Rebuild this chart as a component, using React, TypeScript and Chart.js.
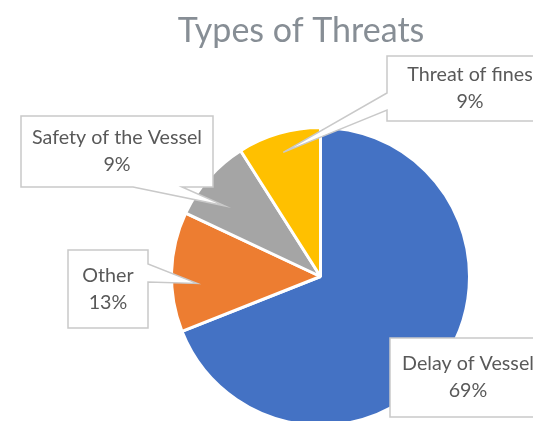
import React, { useEffect, useRef } from "react";
import { Chart, registerables } from "chart.js";

Chart.register(...registerables);

const TITLE = "Types of Threats";
const CATEGORIES = ["Delay of Vessel", "Other", "Safety of the Vessel", "Threat of fines"];
const VALUES = [69, 13, 9, 9];
const COLORS = ["#4472C4", "#ED7D31", "#A5A5A5", "#FFC000"];

// Callout (data label) boxes: [left, top, right, bottom], wedge edge and base span, tip position within slice
type Callout = { box: number[]; edge: string | null; base: number[]; tipR: number; tipDeg: number };
const CALLOUTS: Callout[] = [
  { box: [390, 338, 546, 417], edge: null, base: [0, 0], tipR: 0, tipDeg: 0 },
  { box: [68, 250, 148, 328], edge: "right", base: [264, 282], tipR: 0.83, tipDeg: -5 },
  { box: [21, 116, 213, 187], edge: "bottom", base: [133, 182], tipR: 0.8, tipDeg: -5 },
  { box: [387, 56, 553, 121], edge: "left", base: [93, 110], tipR: 0.87, tipDeg: -0.5 },
];

const FONT = "Lato, 'Open Sans', sans-serif";
const LABEL_COLOR = "#595959";
const TITLE_COLOR = "#878E95";
const CALLOUT_BORDER = "#C9C9C9";

function calloutPath(ctx: CanvasRenderingContext2D, c: Callout, tip: { x: number; y: number } | null) {
  const [x0, y0, x1, y1] = c.box;
  const [b0, b1] = c.base;
  ctx.beginPath();
  ctx.moveTo(x0, y0);
  ctx.lineTo(x1, y0);
  if (c.edge === "right" && tip) {
    ctx.lineTo(x1, b0);
    ctx.lineTo(tip.x, tip.y);
    ctx.lineTo(x1, b1);
  }
  ctx.lineTo(x1, y1);
  if (c.edge === "bottom" && tip) {
    ctx.lineTo(b1, y1);
    ctx.lineTo(tip.x, tip.y);
    ctx.lineTo(b0, y1);
  }
  ctx.lineTo(x0, y1);
  if (c.edge === "left" && tip) {
    ctx.lineTo(x0, b1);
    ctx.lineTo(tip.x, tip.y);
    ctx.lineTo(x0, b0);
  }
  ctx.closePath();
}

const calloutPlugin = {
  id: "calloutsAndTitle",
  afterDraw(chart: any) {
    const ctx: CanvasRenderingContext2D = chart.ctx;
    const meta = chart.getDatasetMeta(0);
    const total = VALUES.reduce((a, b) => a + b, 0);
    ctx.save();
    meta.data.forEach((arc: any, i: number) => {
      const c = CALLOUTS[i];
      const p = arc.getProps(["x", "y", "startAngle", "endAngle", "outerRadius"], true);
      let tip = null;
      if (c.edge) {
        const a = (p.startAngle + p.endAngle) / 2 + (c.tipDeg * Math.PI) / 180;
        const r = p.outerRadius * c.tipR;
        tip = { x: p.x + Math.cos(a) * r, y: p.y + Math.sin(a) * r };
      }
      calloutPath(ctx, c, tip);
      ctx.fillStyle = "#FFFFFF";
      ctx.fill();
      ctx.lineWidth = 1.5;
      ctx.strokeStyle = CALLOUT_BORDER;
      ctx.lineJoin = "miter";
      ctx.stroke();

      const [x0, y0, x1, y1] = c.box;
      const cx = (x0 + x1) / 2;
      const cy = (y0 + y1) / 2;
      ctx.fillStyle = LABEL_COLOR;
      ctx.font = `19.7px ${FONT}`;
      ctx.textAlign = "center";
      ctx.textBaseline = "middle";
      const pct = Math.round((VALUES[i] / total) * 100) + "%";
      ctx.fillText(CATEGORIES[i], cx, cy - 13.5);
      ctx.fillText(pct, cx, cy + 13.5);
    });

    ctx.fillStyle = TITLE_COLOR;
    ctx.font = `34px ${FONT}`;
    ctx.textAlign = "center";
    ctx.textBaseline = "alphabetic";
    ctx.fillText(TITLE, 301, 42);
    ctx.restore();
  },
};

export default function App() {
  const ref = useRef<HTMLCanvasElement | null>(null);
  useEffect(() => {
    if (!ref.current) return;
    const chart = new Chart(ref.current, {
      type: "pie",
      data: {
        labels: CATEGORIES,
        datasets: [
          {
            data: VALUES,
            backgroundColor: COLORS,
            borderColor: "#FFFFFF",
            borderWidth: 3,
          },
        ],
      },
      options: {
        responsive: false,
        animation: false,
        events: [],
        layout: { padding: { left: 170, right: 62, top: 126, bottom: 13 } },
        plugins: {
          legend: { display: false },
          title: { display: false },
          tooltip: { enabled: false },
        },
      },
      plugins: [calloutPlugin],
    });
    return () => chart.destroy();
  }, []);
  return (
    <div style={{ position: "fixed", left: 0, top: 0, width: 533, height: 421, overflow: "hidden", background: "#fff" }}>
      <canvas ref={ref} width={533} height={440} style={{ width: 533, height: 440, display: "block" }} />
    </div>
  );
}
